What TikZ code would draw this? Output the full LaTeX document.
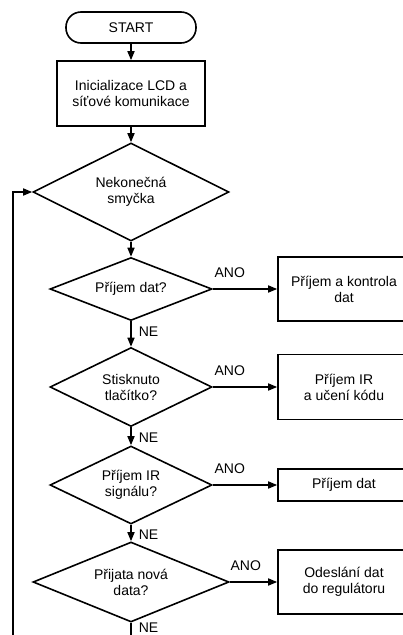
\documentclass[tikz,border=0pt]{standalone}
\usepackage{fontspec}
\setmainfont{Liberation Sans}
\usetikzlibrary{shapes.geometric,arrows.meta}
\begin{document}
\begin{tikzpicture}[x=1pt,y=-1pt,line width=1.6pt,
  every node/.style={font=\fontsize{14}{16}\selectfont, align=center, inner sep=0pt},
  term/.style={draw, rectangle, rounded corners=15pt, minimum width=130pt, minimum height=31pt},
  procbox/.style={draw, rectangle},
  decision/.style={draw, diamond, aspect=2},
  arr/.style={-{Triangle[length=9pt,width=7pt]}},
  lbl/.style={anchor=base west}]
\useasboundingbox (0,0) rectangle (403,635);
\node[term] (start) at (131,27.5) {START};
\node[procbox, minimum width=148pt, minimum height=65pt] (init) at (131,93.5) {Inicializace LCD a\\síťové komunikace};
\node[decision, minimum width=196pt, minimum height=98pt] (d1) at (131,192) {Nekonečná\\smyčka};
\node[decision, minimum width=162pt, minimum height=63pt] (d2) at (131,289) {Příjem dat?};
\node[decision, minimum width=162pt, minimum height=79pt] (d3) at (131,387) {Stisknuto\\tlačítko?};
\node[decision, minimum width=162pt, minimum height=78pt] (d4) at (131,485) {Příjem IR\\signálu?};
\node[decision, minimum width=196pt, minimum height=80pt] (d5) at (131,582) {Přijata nová\\data?};
\node[procbox, minimum width=132pt, minimum height=64pt] (b1) at (344,289) {Příjem a kontrola\\dat};
\node[procbox, minimum width=132pt, minimum height=65pt] (b2) at (344,387) {Příjem IR\\a učení kódu};
\node[procbox, minimum width=132pt, minimum height=32pt] (b3) at (344,485) {Příjem dat};
\node[procbox, minimum width=132pt, minimum height=64pt] (b4) at (344,582) {Odeslání dat\\do regulátoru};
\coordinate (bot) at (131,645);
\coordinate (loopbot) at (13,645);
\draw[arr] (start) -- (init);
\draw[arr] (init) -- (d1);
\draw[arr] (d1) -- (d2);
\draw[arr] (d2) -- (d3);
\draw[arr] (d3) -- (d4);
\draw[arr] (d4) -- (d5);
\draw (d5) -- (bot);
\draw[arr] (loopbot) |- (d1.west);
\draw[arr] (d2.east) -- (b1.west);
\draw[arr] (d3.east) -- (b2.west);
\draw[arr] (d4.east) -- (b3.west);
\draw[arr] (d5.east) -- (b4.west);
\path (d2.east) ++(1,-12) node[lbl] (ano1) {ANO};
\path (d3.east) ++(1,-12) node[lbl] (ano2) {ANO};
\path (d4.east) ++(1,-12) node[lbl] (ano3) {ANO};
\path (d5.east) ++(0,-12) node[lbl] (ano4) {ANO};
\path (d2.south) ++(7,10) node[anchor=west] (ne1) {NE};
\path (d3.south) ++(7,10) node[anchor=west] (ne2) {NE};
\path (d4.south) ++(7,10) node[anchor=west] (ne3) {NE};
\path (d5.south) ++(7,5) node[anchor=west] (ne4) {NE};
\end{tikzpicture}
\end{document}
